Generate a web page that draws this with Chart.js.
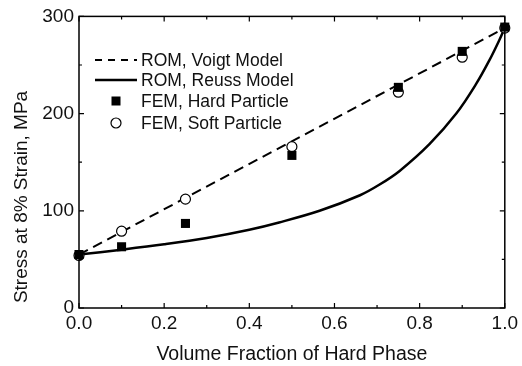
<!DOCTYPE html>
<html>
<head>
<meta charset="utf-8">
<script src="https://cdn.jsdelivr.net/npm/chart.js@4/dist/chart.umd.min.js"></script>
<style>
html,body{margin:0;padding:0;background:#fff;}
canvas{display:block;}
</style>
</head>
<body>
<canvas id="c" width="522" height="366"></canvas>
<script>
// ---- data ----
const voigtX = [0, 1];
const voigtY = [55, 288];
const reussX = [0, 0.1, 0.2, 0.3, 0.4, 0.47, 0.565, 0.66, 0.706, 0.753, 0.823, 0.886, 0.932, 0.964, 0.987, 1.0];
const reussY = [55, 60, 65.5, 72, 80.5, 88, 100, 116, 127, 141, 168.5, 200, 230, 255, 275.5, 288.5];
const hardX = [0, 0.1, 0.25, 0.5, 0.75, 0.9, 1.0];
const hardY = [55, 63, 87, 157, 227, 264, 289];
const softX = [0, 0.1, 0.25, 0.5, 0.75, 0.9, 1.0];
const softY = [54, 79, 112, 166, 222, 258, 288];
const seriesNames = ['ROM, Voigt Model', 'ROM, Reuss Model', 'FEM, Hard Particle', 'FEM, Soft Particle'];
const xTickValues = [0, 0.2, 0.4, 0.6, 0.8, 1.0];
const yTickValues = [0, 100, 200, 300];
const xTitle = 'Volume Fraction of Hard Phase';
const yTitle = 'Stress at 8% Strain, MPa';

const pts = (xs, ys) => xs.map((x, i) => ({x: x, y: ys[i]}));
const FONT = "'Liberation Sans', Arial, sans-serif";

const frameTicks = {
  id: 'frameTicks',
  afterDatasetsDraw(chart) {
    const {ctx, chartArea: a, scales} = chart;
    const xs = scales.x, ys = scales.y;
    ctx.save();
    ctx.strokeStyle = '#000';
    ctx.lineWidth = 1.5;
    ctx.strokeRect(a.left, a.top, a.right - a.left, a.bottom - a.top);
    ctx.lineWidth = 1.2;
    ctx.beginPath();
    for (let i = 0; i <= 10; i++) {
      const v = i / 10;
      const p = xs.getPixelForValue(v);
      const len = (i % 2 === 0) ? 5 : 3;
      ctx.moveTo(p, a.bottom); ctx.lineTo(p, a.bottom - len);
      ctx.moveTo(p, a.top); ctx.lineTo(p, a.top + len);
    }
    for (let v = 0; v <= 300; v += 50) {
      const p = ys.getPixelForValue(v);
      const len = (v % 100 === 0) ? 5 : 3;
      ctx.moveTo(a.left, p); ctx.lineTo(a.left + len, p);
      ctx.moveTo(a.right, p); ctx.lineTo(a.right - len, p);
    }
    ctx.stroke();
    ctx.restore();
  },
  afterDraw(chart) {
    const {ctx} = chart;
    ctx.save();
    // y-axis title
    ctx.fillStyle = '#111';
    ctx.font = '19px ' + FONT;
    ctx.textAlign = 'center';
    ctx.textBaseline = 'middle';
    ctx.translate(22, 197);
    ctx.rotate(-Math.PI / 2);
    ctx.fillText(yTitle, 0, 0);
    ctx.restore();

    ctx.save();
    ctx.fillStyle = '#111';
    ctx.font = '17.5px ' + FONT;
    ctx.textBaseline = 'middle';
    ctx.textAlign = 'left';
    const tx = 141;
    const rows = [60, 80, 101, 123];
    ctx.strokeStyle = '#000';
    ctx.lineWidth = 2;
    ctx.setLineDash([7, 6]);
    ctx.beginPath(); ctx.moveTo(95, rows[0]); ctx.lineTo(137, rows[0]); ctx.stroke();
    ctx.setLineDash([]);
    ctx.lineWidth = 2.5;
    ctx.beginPath(); ctx.moveTo(95, rows[1]); ctx.lineTo(137, rows[1]); ctx.stroke();
    ctx.fillStyle = '#000';
    ctx.fillRect(116 - 4.5, rows[2] - 4.5, 9, 9);
    ctx.fillStyle = '#fff';
    ctx.lineWidth = 1.2;
    ctx.beginPath(); ctx.arc(116, rows[3], 5, 0, Math.PI * 2); ctx.fill(); ctx.stroke();
    ctx.fillStyle = '#111';
    seriesNames.forEach((n, i) => ctx.fillText(n, tx, rows[i] + 1));
    ctx.restore();
  }
};

new Chart(document.getElementById('c'), {
  type: 'scatter',
  data: {
    datasets: [
      {label: seriesNames[2], data: pts(hardX, hardY), order: 0, pointStyle: 'rect', pointRadius: 6.4,
       backgroundColor: '#000', borderColor: '#000', borderWidth: 0, showLine: false, clip: false},
      {label: seriesNames[3], data: pts(softX, softY), order: 1, pointStyle: 'circle', pointRadius: 5,
       backgroundColor: '#fff', borderColor: '#000', borderWidth: 1.2, showLine: false, clip: false},
      {label: seriesNames[0], data: pts(voigtX, voigtY), order: 2, showLine: true, pointRadius: 0,
       borderColor: '#000', borderWidth: 2, borderDash: [10, 6], clip: false},
      {label: seriesNames[1], data: pts(reussX, reussY), order: 3, showLine: true, pointRadius: 0,
       borderColor: '#000', borderWidth: 2.5, tension: 0.35, clip: false}
    ]
  },
  options: {
    responsive: false,
    animation: false,
    devicePixelRatio: 1,
    layout: {padding: {top: 16, right: 16, left: 0, bottom: 0}},
    plugins: {legend: {display: false}, tooltip: {enabled: false}},
    scales: {
      x: {
        type: 'linear', min: 0, max: 1,
        afterFit: s => { s.height = 58; },
        afterBuildTicks: s => { s.ticks = xTickValues.map(v => ({value: v})); },
        grid: {display: false, drawTicks: false},
        border: {display: false},
        ticks: {padding: 4, color: '#111', font: {family: FONT, size: 19},
                callback: v => Number(v).toFixed(1), maxRotation: 0, autoSkip: false},
        title: {display: true, text: xTitle, color: '#111', font: {family: FONT, size: 19.5}, padding: {top: 0, bottom: 0}}
      },
      y: {
        type: 'linear', min: 0, max: 300,
        afterFit: s => { s.width = 79; },
        afterBuildTicks: s => { s.ticks = yTickValues.map(v => ({value: v})); },
        grid: {display: false, drawTicks: false},
        border: {display: false},
        ticks: {padding: 5, color: '#111', font: {family: FONT, size: 19}},
        title: {display: false}
      }
    }
  },
  plugins: [frameTicks]
});
</script>
</body>
</html>
